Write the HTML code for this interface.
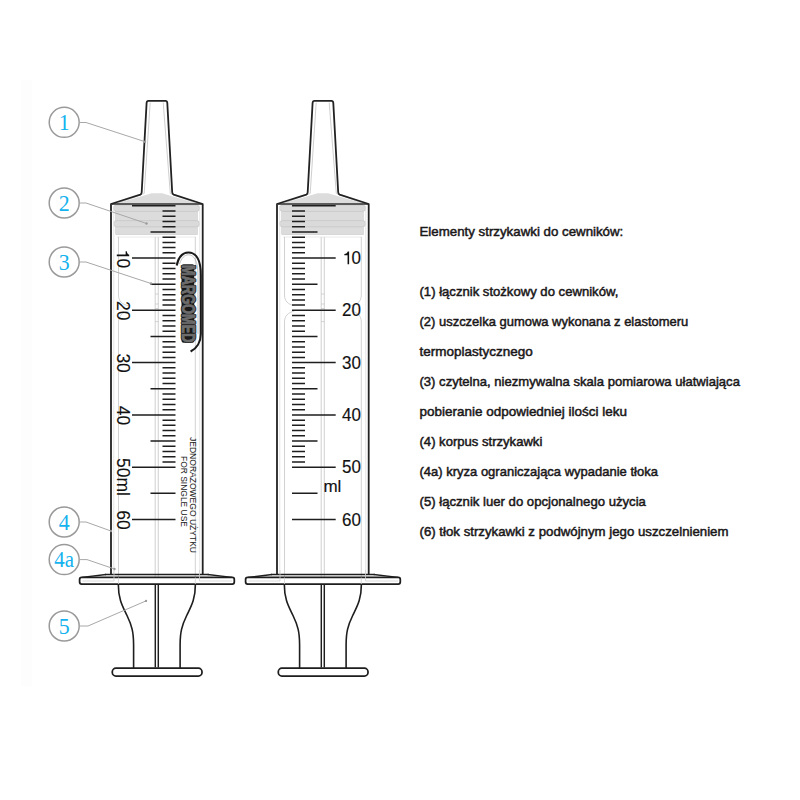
<!DOCTYPE html>
<html><head><meta charset="utf-8"><style>
html,body{margin:0;padding:0;background:#fff;width:800px;height:800px;overflow:hidden}
svg{display:block}
</style></head><body>
<svg width="800" height="800" viewBox="0 0 800 800">
<rect x="21" y="80" width="11" height="606" fill="#fdfdfd"/>
<g><polygon points="151.6,193.2 162.1,193.2 197,203.6 116.8,203.6" fill="#dcdcdc"/><path d="M144.2,193.5 L116.8,203.6 M170.3,193.5 L197,203.6" stroke="#d2d2d2" stroke-width="0.8"/><path d="M150.2,102.5 L144.2,193.5 M163.2,102.5 L170.3,193.5" stroke="#c8c8c8" stroke-width="0.9" fill="none"/><rect x="115" y="210.5" width="83" height="10.5" fill="#dcdcdc"/><rect x="115" y="226" width="83" height="8.5" fill="#dcdcdc"/><rect x="113.6" y="205" width="86" height="6.4" rx="3.2" fill="#dadada" stroke="#c6c6c6" stroke-width="0.8"/><rect x="113.6" y="220.6" width="86" height="6.2" rx="3.1" fill="#dadada" stroke="#c6c6c6" stroke-width="0.8"/><path d="M116,234.5 L197.5,234.5" stroke="#cfcfcf" stroke-width="0.8"/><path d="M117,237 L196,237" stroke="#e4e4e4" stroke-width="0.8"/><path d="M113.8,206 L113.8,581" stroke="#e2e2e2" stroke-width="0.9" fill="none"/><path d="M118.5,237 L118.5,295 C118.5,301 122,304.5 128.5,305.8 M128.5,311 C122,312.5 118.5,316 118.5,322 L118.5,584" stroke="#cdcdcd" stroke-width="0.9" fill="none"/><path d="M195.3,237 L195.3,295 C195.3,301 191.8,304.5 185.3,305.8 M185.3,311 C191.8,312.5 195.3,316 195.3,322 L195.3,584" stroke="#cdcdcd" stroke-width="0.9" fill="none"/><path d="M199.8,206 L199.8,581" stroke="#e2e2e2" stroke-width="0.9" fill="none"/><path d="M155.2,237 L155.2,584 M158.3,237 L158.3,584" stroke="#d4d4d4" stroke-width="1.1" fill="none"/><path d="M155.2,294 L158.3,294 M155.2,304 L158.3,304 M155.2,308.5 L158.3,308.5 M155.2,321.6 L158.3,321.6" stroke="#c8c8c8" stroke-width="0.8"/><path d="M112,204 L202,204" stroke="#2a2a2a" stroke-width="1.6"/><path d="M111,574.5 L111,204 L140.3,194.6 Q141.6,194 141.7,192.3 L146.6,103 Q146.7,100.9 148.5,100.9 L165.4,100.9 Q167.2,100.9 167.3,103 L172.2,192.3 Q172.3,194 173.7,194.6 L202.7,204 L202.7,574.5" stroke="#222" stroke-width="1.8" fill="none" stroke-linejoin="round"/><path d="M105,574.5 L208.7,574.5" stroke="#1e1e1e" stroke-width="1.6"/><path d="M106,574.5 L82,577.4 M207.7,574.5 L232,577.4" stroke="#1e1e1e" stroke-width="1.4" fill="none"/><path d="M81.6,577.4 L232.3,577.4 Q234.3,577.4 234.3,579.4 L234.3,582 Q234.3,584 232.3,584 L81.6,584 Q79.6,584 79.6,582 L79.6,579.4 Q79.6,577.4 81.6,577.4 Z" stroke="#1e1e1e" stroke-width="1.75" fill="#fff"/><path d="M82.5,581 L114,581 L114,570 M232,581 L199.5,581 L199.5,570" stroke="#cfcfcf" stroke-width="0.8" fill="none"/><path d="M118.5,577.5 L118.5,584 M195.3,577.5 L195.3,584" stroke="#d0d0d0" stroke-width="0.8" fill="none"/><path d="M118.3,584 C118.3,600 123,607 127,615.5 C131.8,625.5 133.6,632 133.6,645 L133.6,668.2" stroke="#1e1e1e" stroke-width="1.6" fill="none"/><path d="M195.4,584 C195.4,600 190.7,607 186.7,615.5 C181.9,625.5 180.1,632 180.1,645 L180.1,668.2" stroke="#1e1e1e" stroke-width="1.6" fill="none"/><path d="M155.3,584 L155.3,667.5 M158.3,584 L158.3,667.5" stroke="#1e1e1e" stroke-width="1.45" fill="none"/><rect x="112.3" y="668.2" width="89.7" height="7.8" rx="3.6" stroke="#1e1e1e" stroke-width="1.75" fill="#fff"/></g>
<g transform="translate(166,0)"><polygon points="151.6,193.2 162.1,193.2 197,203.6 116.8,203.6" fill="#dcdcdc"/><path d="M144.2,193.5 L116.8,203.6 M170.3,193.5 L197,203.6" stroke="#d2d2d2" stroke-width="0.8"/><path d="M150.2,102.5 L144.2,193.5 M163.2,102.5 L170.3,193.5" stroke="#c8c8c8" stroke-width="0.9" fill="none"/><rect x="115" y="210.5" width="83" height="10.5" fill="#dcdcdc"/><rect x="115" y="226" width="83" height="8.5" fill="#dcdcdc"/><rect x="113.6" y="205" width="86" height="6.4" rx="3.2" fill="#dadada" stroke="#c6c6c6" stroke-width="0.8"/><rect x="113.6" y="220.6" width="86" height="6.2" rx="3.1" fill="#dadada" stroke="#c6c6c6" stroke-width="0.8"/><path d="M116,234.5 L197.5,234.5" stroke="#cfcfcf" stroke-width="0.8"/><path d="M117,237 L196,237" stroke="#e4e4e4" stroke-width="0.8"/><path d="M113.8,206 L113.8,581" stroke="#e2e2e2" stroke-width="0.9" fill="none"/><path d="M118.5,237 L118.5,295 C118.5,301 122,304.5 128.5,305.8 M128.5,311 C122,312.5 118.5,316 118.5,322 L118.5,584" stroke="#cdcdcd" stroke-width="0.9" fill="none"/><path d="M195.3,237 L195.3,295 C195.3,301 191.8,304.5 185.3,305.8 M185.3,311 C191.8,312.5 195.3,316 195.3,322 L195.3,584" stroke="#cdcdcd" stroke-width="0.9" fill="none"/><path d="M199.8,206 L199.8,581" stroke="#e2e2e2" stroke-width="0.9" fill="none"/><path d="M155.2,237 L155.2,584 M158.3,237 L158.3,584" stroke="#d4d4d4" stroke-width="1.1" fill="none"/><path d="M155.2,294 L158.3,294 M155.2,304 L158.3,304 M155.2,308.5 L158.3,308.5 M155.2,321.6 L158.3,321.6" stroke="#c8c8c8" stroke-width="0.8"/><path d="M112,204 L202,204" stroke="#2a2a2a" stroke-width="1.6"/><path d="M111,574.5 L111,204 L140.3,194.6 Q141.6,194 141.7,192.3 L146.6,103 Q146.7,100.9 148.5,100.9 L165.4,100.9 Q167.2,100.9 167.3,103 L172.2,192.3 Q172.3,194 173.7,194.6 L202.7,204 L202.7,574.5" stroke="#222" stroke-width="1.8" fill="none" stroke-linejoin="round"/><path d="M105,574.5 L208.7,574.5" stroke="#1e1e1e" stroke-width="1.6"/><path d="M106,574.5 L82,577.4 M207.7,574.5 L232,577.4" stroke="#1e1e1e" stroke-width="1.4" fill="none"/><path d="M81.6,577.4 L232.3,577.4 Q234.3,577.4 234.3,579.4 L234.3,582 Q234.3,584 232.3,584 L81.6,584 Q79.6,584 79.6,582 L79.6,579.4 Q79.6,577.4 81.6,577.4 Z" stroke="#1e1e1e" stroke-width="1.75" fill="#fff"/><path d="M82.5,581 L114,581 L114,570 M232,581 L199.5,581 L199.5,570" stroke="#cfcfcf" stroke-width="0.8" fill="none"/><path d="M118.5,577.5 L118.5,584 M195.3,577.5 L195.3,584" stroke="#d0d0d0" stroke-width="0.8" fill="none"/><path d="M118.3,584 C118.3,600 123,607 127,615.5 C131.8,625.5 133.6,632 133.6,645 L133.6,668.2" stroke="#1e1e1e" stroke-width="1.6" fill="none"/><path d="M195.4,584 C195.4,600 190.7,607 186.7,615.5 C181.9,625.5 180.1,632 180.1,645 L180.1,668.2" stroke="#1e1e1e" stroke-width="1.6" fill="none"/><path d="M155.3,584 L155.3,667.5 M158.3,584 L158.3,667.5" stroke="#1e1e1e" stroke-width="1.45" fill="none"/><rect x="112.3" y="668.2" width="89.7" height="7.8" rx="3.6" stroke="#1e1e1e" stroke-width="1.75" fill="#fff"/></g>
<path d="M132,205.80 L175.5,205.80 M162.5,211.03 L175.5,211.03 M162.5,216.26 L175.5,216.26 M162.5,221.48 L175.5,221.48 M162.5,226.71 L175.5,226.71 M150.5,231.94 L175.5,231.94 M162.5,237.17 L175.5,237.17 M162.5,242.39 L175.5,242.39 M162.5,247.62 L175.5,247.62 M162.5,252.85 L175.5,252.85 M132,258.07 L175.5,258.07 M162.5,263.30 L175.5,263.30 M162.5,268.53 L175.5,268.53 M162.5,273.76 L175.5,273.76 M162.5,278.99 L175.5,278.99 M150.5,284.21 L175.5,284.21 M162.5,289.44 L175.5,289.44 M162.5,294.67 L175.5,294.67 M162.5,299.89 L175.5,299.89 M162.5,305.12 L175.5,305.12 M132,310.35 L175.5,310.35 M162.5,315.58 L175.5,315.58 M162.5,320.81 L175.5,320.81 M162.5,326.03 L175.5,326.03 M162.5,331.26 L175.5,331.26 M150.5,336.49 L175.5,336.49 M162.5,341.72 L175.5,341.72 M162.5,346.94 L175.5,346.94 M162.5,352.17 L175.5,352.17 M162.5,357.40 L175.5,357.40 M132,362.62 L175.5,362.62 M162.5,367.85 L175.5,367.85 M162.5,373.08 L175.5,373.08 M162.5,378.31 L175.5,378.31 M162.5,383.54 L175.5,383.54 M150.5,388.76 L175.5,388.76 M162.5,393.99 L175.5,393.99 M162.5,399.22 L175.5,399.22 M162.5,404.45 L175.5,404.45 M162.5,409.67 L175.5,409.67 M132,414.90 L175.5,414.90 M162.5,420.13 L175.5,420.13 M162.5,425.36 L175.5,425.36 M162.5,430.58 L175.5,430.58 M162.5,435.81 L175.5,435.81 M150.5,441.04 L175.5,441.04 M162.5,446.26 L175.5,446.26 M162.5,451.49 L175.5,451.49 M162.5,456.72 L175.5,456.72 M162.5,461.95 L175.5,461.95 M132,467.18 L175.5,467.18 M150.5,493.31 L175.5,493.31 M132,519.45 L175.5,519.45" stroke="#1e1e1e" stroke-width="1.5" fill="none"/>
<path d="M292,205.80 L335.7,205.80 M292,211.03 L305,211.03 M292,216.26 L305,216.26 M292,221.48 L305,221.48 M292,226.71 L305,226.71 M292,231.94 L317.5,231.94 M292,237.17 L305,237.17 M292,242.39 L305,242.39 M292,247.62 L305,247.62 M292,252.85 L305,252.85 M292,258.07 L335.7,258.07 M292,263.30 L305,263.30 M292,268.53 L305,268.53 M292,273.76 L305,273.76 M292,278.99 L305,278.99 M292,284.21 L317.5,284.21 M292,289.44 L305,289.44 M292,294.67 L305,294.67 M292,299.89 L305,299.89 M292,305.12 L305,305.12 M292,310.35 L335.7,310.35 M292,315.58 L305,315.58 M292,320.81 L305,320.81 M292,326.03 L305,326.03 M292,331.26 L305,331.26 M292,336.49 L317.5,336.49 M292,341.72 L305,341.72 M292,346.94 L305,346.94 M292,352.17 L305,352.17 M292,357.40 L305,357.40 M292,362.62 L335.7,362.62 M292,367.85 L305,367.85 M292,373.08 L305,373.08 M292,378.31 L305,378.31 M292,383.54 L305,383.54 M292,388.76 L317.5,388.76 M292,393.99 L305,393.99 M292,399.22 L305,399.22 M292,404.45 L305,404.45 M292,409.67 L305,409.67 M292,414.90 L335.7,414.90 M292,420.13 L305,420.13 M292,425.36 L305,425.36 M292,430.58 L305,430.58 M292,435.81 L305,435.81 M292,441.04 L317.5,441.04 M292,446.26 L305,446.26 M292,451.49 L305,451.49 M292,456.72 L305,456.72 M292,461.95 L305,461.95 M292,467.18 L335.7,467.18 M292,493.31 L317.5,493.31 M292,519.45 L335.7,519.45" stroke="#1e1e1e" stroke-width="1.5" fill="none"/>
<g transform="translate(116.8,258.57) rotate(90)"><path transform="translate(-9.73,0.00) scale(0.01750,-0.01750)" d="M419,0 L327,0 L327,505 L138,505 L138,572 C250,580 312,625 336,709 L419,709 Z" fill="#111"/><text x="0" y="0" font-family="Liberation Sans, sans-serif" font-size="17.5" fill="#111" stroke="#111" stroke-width="0.12">0</text></g>
<g transform="translate(116.8,310.85) rotate(90)"><text x="0" y="0" font-family="Liberation Sans, sans-serif" font-size="17.5" fill="#111" stroke="#111" stroke-width="0.12" text-anchor="middle">20</text></g>
<g transform="translate(116.8,363.12) rotate(90)"><text x="0" y="0" font-family="Liberation Sans, sans-serif" font-size="17.5" fill="#111" stroke="#111" stroke-width="0.12" text-anchor="middle">30</text></g>
<g transform="translate(116.8,415.40) rotate(90)"><text x="0" y="0" font-family="Liberation Sans, sans-serif" font-size="17.5" fill="#111" stroke="#111" stroke-width="0.12" text-anchor="middle">40</text></g>
<g transform="translate(116.8,467.68) rotate(90)"><text x="-9.73" y="0" font-family="Liberation Sans, sans-serif" font-size="17.5" fill="#111" stroke="#111" stroke-width="0.12">50ml</text></g>
<g transform="translate(116.8,519.95) rotate(90)"><text x="0" y="0" font-family="Liberation Sans, sans-serif" font-size="17.5" fill="#111" stroke="#111" stroke-width="0.12" text-anchor="middle">60</text></g>
<path transform="translate(342,264.18) scale(0.01700,-0.01780)" d="M419,0 L327,0 L327,505 L138,505 L138,572 C250,580 312,625 336,709 L419,709 Z" fill="#111"/><text transform="translate(351.45,264.18) scale(0.955,1)" font-family="Liberation Sans, sans-serif" font-size="17.8" fill="#111" stroke="#111" stroke-width="0.15">0</text>
<text transform="translate(342,316.45) scale(0.955,1)" font-family="Liberation Sans, sans-serif" font-size="17.8" fill="#111" stroke="#111" stroke-width="0.15">20</text>
<text transform="translate(342,368.73) scale(0.955,1)" font-family="Liberation Sans, sans-serif" font-size="17.8" fill="#111" stroke="#111" stroke-width="0.15">30</text>
<text transform="translate(342,421.00) scale(0.955,1)" font-family="Liberation Sans, sans-serif" font-size="17.8" fill="#111" stroke="#111" stroke-width="0.15">40</text>
<text transform="translate(342,473.28) scale(0.955,1)" font-family="Liberation Sans, sans-serif" font-size="17.8" fill="#111" stroke="#111" stroke-width="0.15">50</text>
<text transform="translate(342,525.55) scale(0.955,1)" font-family="Liberation Sans, sans-serif" font-size="17.8" fill="#111" stroke="#111" stroke-width="0.15">60</text>
<text x="323.4" y="491.8" font-family="Liberation Sans, sans-serif" font-size="17" fill="#111" stroke="#111" stroke-width="0.15">ml</text>
<text transform="translate(190.3,437) rotate(90)" font-family="Liberation Sans, sans-serif" font-size="9" fill="#222" textLength="116" lengthAdjust="spacingAndGlyphs">JEDNORAZOWEGO UŻYTKU</text>
<text transform="translate(181.2,456) rotate(90)" font-family="Liberation Sans, sans-serif" font-size="9" fill="#222" textLength="71" lengthAdjust="spacingAndGlyphs">FOR SINGLE USE</text>
<path d="M176.7,265.5 C178.5,257 183,252.5 188.5,252.5 C196,252.5 200.8,260 200.8,275 L200.8,334 C200.8,342 196.5,348.5 190.6,351.5" stroke="#1a1a1a" stroke-width="2.1" fill="none"/>
<path d="M179.5,264 C181.5,258 184.5,254.8 188.5,254.8 C194,254.8 198,261 198,275 L198,334" stroke="#9a9a9a" stroke-width="0.6" fill="none"/>
<rect x="181.5" y="264.3" width="12.8" height="78.5" rx="2" fill="#1a1a1a"/>
<text transform="translate(182.4,265) rotate(90)" font-family="Liberation Sans, sans-serif" font-weight="bold" font-size="17.5" fill="#141414" stroke="#141414" stroke-width="2.4" stroke-linejoin="round" textLength="77.5" lengthAdjust="spacingAndGlyphs">MARGOMED</text>
<text transform="translate(182.4,265) rotate(90)" font-family="Liberation Sans, sans-serif" font-weight="bold" font-size="17.5" fill="#6c6c6c" stroke="#6c6c6c" stroke-width="0.9" stroke-linejoin="round" textLength="77.5" lengthAdjust="spacingAndGlyphs">MARGOMED</text>
<circle cx="64.2" cy="122.3" r="15" fill="#fff" stroke="#9a9a9a" stroke-width="1.5"/>
<text transform="translate(64.2,130.1) scale(0.93,1)" x="0" y="0" font-family="Liberation Serif, serif" font-size="23.5" fill="#14b2ee" text-anchor="middle">1</text>
<circle cx="64.2" cy="203" r="15" fill="#fff" stroke="#9a9a9a" stroke-width="1.5"/>
<text transform="translate(64.2,210.8) scale(0.93,1)" x="0" y="0" font-family="Liberation Serif, serif" font-size="23.5" fill="#14b2ee" text-anchor="middle">2</text>
<circle cx="64.2" cy="262" r="15" fill="#fff" stroke="#9a9a9a" stroke-width="1.5"/>
<text transform="translate(64.2,269.8) scale(0.93,1)" x="0" y="0" font-family="Liberation Serif, serif" font-size="23.5" fill="#14b2ee" text-anchor="middle">3</text>
<circle cx="64.2" cy="522" r="15" fill="#fff" stroke="#9a9a9a" stroke-width="1.5"/>
<text transform="translate(64.2,529.8) scale(0.93,1)" x="0" y="0" font-family="Liberation Serif, serif" font-size="23.5" fill="#14b2ee" text-anchor="middle">4</text>
<circle cx="64.2" cy="559.6" r="15" fill="#fff" stroke="#9a9a9a" stroke-width="1.5"/>
<text transform="translate(64.2,567.4) scale(0.93,1)" x="0" y="0" font-family="Liberation Serif, serif" font-size="22.5" fill="#14b2ee" text-anchor="middle">4a</text>
<circle cx="64.2" cy="626" r="15" fill="#fff" stroke="#9a9a9a" stroke-width="1.5"/>
<text transform="translate(64.2,633.8) scale(0.93,1)" x="0" y="0" font-family="Liberation Serif, serif" font-size="23.5" fill="#14b2ee" text-anchor="middle">5</text>
<path d="M79,122.5 L86,122.5 L145,141.7 M79,203 L86,203 L146.5,223.5 M79,262 L86,262 L151,283.5 M79,522 L86,522 L111,531 M79,559.6 L87,559.6 L114.5,569 M79,626 L88,626 L146,600.9" stroke="#a8a8a8" stroke-width="1" fill="none"/>
<circle cx="145" cy="141.7" r="1.2" fill="#9a9a9a"/>
<circle cx="146.5" cy="223.5" r="1.2" fill="#9a9a9a"/>
<circle cx="151" cy="283.5" r="1.2" fill="#9a9a9a"/>
<circle cx="111" cy="531" r="1.2" fill="#9a9a9a"/>
<circle cx="114.5" cy="569" r="1.2" fill="#9a9a9a"/>
<circle cx="146" cy="600.9" r="1.2" fill="#9a9a9a"/>
<text x="419.5" y="235.8" font-family="Liberation Sans, sans-serif" font-size="13.4" fill="#1a1718" stroke="#1a1718" stroke-width="0.5" textLength="203.8" lengthAdjust="spacingAndGlyphs">Elementy strzykawki do cewników:</text>
<text x="419.5" y="295.8" font-family="Liberation Sans, sans-serif" font-size="13.4" fill="#1a1718" stroke="#1a1718" stroke-width="0.5" textLength="198.8" lengthAdjust="spacingAndGlyphs">(1) łącznik stożkowy do cewników,</text>
<text x="419.5" y="325.8" font-family="Liberation Sans, sans-serif" font-size="13.4" fill="#1a1718" stroke="#1a1718" stroke-width="0.5" textLength="268.8" lengthAdjust="spacingAndGlyphs">(2) uszczelka gumowa wykonana z elastomeru</text>
<text x="419.5" y="355.8" font-family="Liberation Sans, sans-serif" font-size="13.4" fill="#1a1718" stroke="#1a1718" stroke-width="0.5" textLength="113.2" lengthAdjust="spacingAndGlyphs">termoplastycznego</text>
<text x="419.5" y="385.8" font-family="Liberation Sans, sans-serif" font-size="13.4" fill="#1a1718" stroke="#1a1718" stroke-width="0.5" textLength="320.4" lengthAdjust="spacingAndGlyphs">(3) czytelna, niezmywalna skala pomiarowa ułatwiająca</text>
<text x="419.5" y="415.8" font-family="Liberation Sans, sans-serif" font-size="13.4" fill="#1a1718" stroke="#1a1718" stroke-width="0.5" textLength="207.5" lengthAdjust="spacingAndGlyphs">pobieranie odpowiedniej ilości leku</text>
<text x="419.5" y="445.8" font-family="Liberation Sans, sans-serif" font-size="13.4" fill="#1a1718" stroke="#1a1718" stroke-width="0.5" textLength="122.8" lengthAdjust="spacingAndGlyphs">(4) korpus strzykawki</text>
<text x="419.5" y="475.8" font-family="Liberation Sans, sans-serif" font-size="13.4" fill="#1a1718" stroke="#1a1718" stroke-width="0.5" textLength="238.4" lengthAdjust="spacingAndGlyphs">(4a) kryza ograniczająca wypadanie tłoka</text>
<text x="419.5" y="505.8" font-family="Liberation Sans, sans-serif" font-size="13.4" fill="#1a1718" stroke="#1a1718" stroke-width="0.5" textLength="226.4" lengthAdjust="spacingAndGlyphs">(5) łącznik luer do opcjonalnego użycia</text>
<text x="419.5" y="535.8" font-family="Liberation Sans, sans-serif" font-size="13.4" fill="#1a1718" stroke="#1a1718" stroke-width="0.5" textLength="309.0" lengthAdjust="spacingAndGlyphs">(6) tłok strzykawki z podwójnym jego uszczelnieniem</text>
</svg>
</body></html>
